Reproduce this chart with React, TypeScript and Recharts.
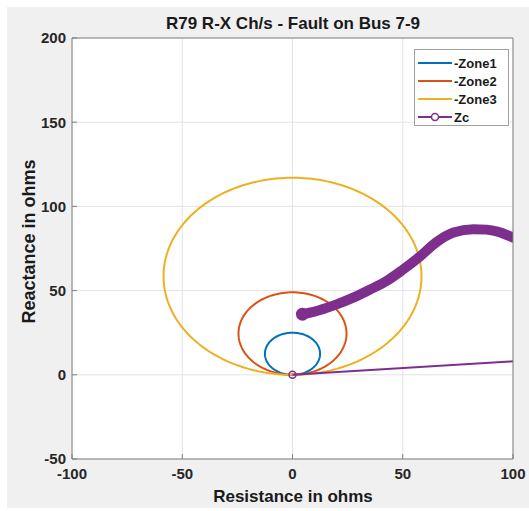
import { ComposedChart, Line, XAxis, YAxis, CartesianGrid } from "recharts";

const FONT = '"Liberation Sans", Arial, sans-serif';

const xTicks = [-100, -50, 0, 50, 100];
const yTicks = [-50, 0, 50, 100, 150, 200];

const zoneNames = ["-Zone1", "-Zone2", "-Zone3"];
// mho circle reach along the X axis (ohms), circles pass through the origin
const zoneReach = [25, 49, 117];
const zoneColors = ["#0072BD", "#D95319", "#EDB120"];

// Zc trajectory (R, X in ohms)
const zcR = [4.5, 10, 15, 20, 27, 35, 43, 50, 58, 65, 73, 82, 88, 93, 100];
const zcX = [36, 37.5, 39.5, 41.8, 45.5, 50.5, 56, 62.4, 70.5, 78.5, 84.5, 86.5, 86.2, 85, 81.5];
const zcTailR = [0, 100];
const zcTailX = [0, 8];
const ZC_COLOR = "#7E2F8E";

function mhoCircle(reach: number) {
  const r = reach / 2;
  return Array.from({ length: 145 }, (_, i) => {
    const t = (i / 144) * 2 * Math.PI - Math.PI / 2;
    return { x: r * Math.cos(t), y: r + r * Math.sin(t) };
  });
}

const zoneData = zoneReach.map(mhoCircle);
const zcData = zcR.map((x, i) => ({ x, y: zcX[i] }));
const zcTailData = zcTailR.map((x, i) => ({ x, y: zcTailX[i] }));

const tickStyle = { fill: "#262626", fontSize: 15, fontWeight: "bold", fontFamily: FONT };
const FRAME = "#808080";

export default function App() {
  return (
    <div style={{ position: "absolute", left: 0, top: 0, width: 529, height: 511, background: "#fff", fontFamily: FONT }}>
      <div style={{ position: "absolute", left: 7, top: 7, width: 522, height: 501, background: "#f0f0f0" }} />
      <div
        style={{
          position: "absolute",
          left: 93,
          width: 400,
          top: 14,
          textAlign: "center",
          fontSize: 17,
          fontWeight: "bold",
          color: "#1a1a1a",
        }}
      >
        R79 R-X Ch/s - Fault on Bus 7-9
      </div>
      <div
        style={{
          position: "absolute",
          left: 93,
          width: 400,
          top: 487,
          textAlign: "center",
          fontSize: 17,
          fontWeight: "bold",
          color: "#1a1a1a",
        }}
      >
        Resistance in ohms
      </div>
      <div
        style={{
          position: "absolute",
          left: 29 - 150,
          width: 300,
          top: 242 - 11,
          textAlign: "center",
          fontSize: 18,
          fontWeight: "bold",
          color: "#1a1a1a",
          transform: "rotate(-90deg)",
        }}
      >
        Reactance in ohms
      </div>
      <div style={{ position: "absolute", left: 0, top: 0 }}>
        <ComposedChart width={529} height={511} margin={{ top: 37, right: 15, bottom: 12, left: 0 }}>
          <CartesianGrid stroke="#e3e3e3" fill="#ffffff" />
          <XAxis
            dataKey="x"
            type="number"
            domain={[-100, 100]}
            ticks={xTicks}
            allowDataOverflow
            height={40}
            axisLine={{ stroke: FRAME }}
            tickLine={{ stroke: FRAME }}
            tickSize={-5}
            tickMargin={14}
            tick={tickStyle}
          />
          <XAxis
            xAxisId="top"
            orientation="top"
            dataKey="x"
            type="number"
            domain={[-100, 100]}
            ticks={xTicks}
            allowDataOverflow
            height={1}
            axisLine={{ stroke: FRAME }}
            tickLine={{ stroke: FRAME }}
            tickSize={-5}
            tick={false}
          />
          <YAxis
            type="number"
            domain={[-50, 200]}
            ticks={yTicks}
            allowDataOverflow
            width={72}
            axisLine={{ stroke: FRAME }}
            tickLine={{ stroke: FRAME }}
            tickSize={-5}
            tickMargin={11}
            tick={tickStyle}
          />
          <YAxis
            yAxisId="right"
            orientation="right"
            type="number"
            domain={[-50, 200]}
            ticks={yTicks}
            allowDataOverflow
            width={1}
            axisLine={{ stroke: FRAME }}
            tickLine={{ stroke: FRAME }}
            tickSize={-5}
            tick={false}
          />
          {zoneData.map((pts, i) => (
            <Line
              key={zoneNames[i]}
              data={pts}
              dataKey="y"
              name={zoneNames[i]}
              type="linear"
              stroke={zoneColors[i]}
              strokeWidth={2}
              dot={false}
              activeDot={false}
              isAnimationActive={false}
            />
          ))}
          <Line
            data={zcTailData}
            dataKey="y"
            name="Zc"
            type="linear"
            stroke={ZC_COLOR}
            strokeWidth={2}
            dot={(p: any) =>
              p.index === 0 ? (
                <circle key={p.index} cx={p.cx} cy={p.cy} r={3.5} fill="none" stroke={ZC_COLOR} strokeWidth={1.5} />
              ) : (
                <g key={p.index} />
              )
            }
            activeDot={false}
            isAnimationActive={false}
          />
          <Line
            data={zcData}
            dataKey="y"
            name="Zc path"
            type="monotone"
            stroke={ZC_COLOR}
            strokeWidth={10}
            strokeLinecap="round"
            strokeLinejoin="round"
            dot={(p: any) =>
              p.index === 0 ? (
                <circle key={p.index} cx={p.cx} cy={p.cy} r={6.5} fill={ZC_COLOR} />
              ) : (
                <g key={p.index} />
              )
            }
            activeDot={false}
            isAnimationActive={false}
          />
        </ComposedChart>
      </div>
      <div
        style={{
          position: "absolute",
          left: 414,
          top: 49,
          width: 95,
          height: 77,
          background: "#fff",
          border: "1px solid #a0a0a0",
          boxSizing: "border-box",
          fontSize: 13,
          fontWeight: "bold",
          color: "#1a1a1a",
        }}
      >
        {[...zoneNames, "Zc"].map((name, i) => {
          const color = i < 3 ? zoneColors[i] : ZC_COLOR;
          return (
            <div key={name} style={{ position: "absolute", left: 2, top: 4 + i * 18, height: 18, display: "flex", alignItems: "center" }}>
              <svg width={36} height={18}>
                <line x1={1} x2={35} y1={9} y2={9} stroke={color} strokeWidth={2} />
                {i === 3 && <circle cx={18} cy={9} r={3.5} fill="#fff" stroke={color} strokeWidth={1.5} />}
              </svg>
              <span style={{ marginLeft: 1 }}>{name}</span>
            </div>
          );
        })}
      </div>
    </div>
  );
}
